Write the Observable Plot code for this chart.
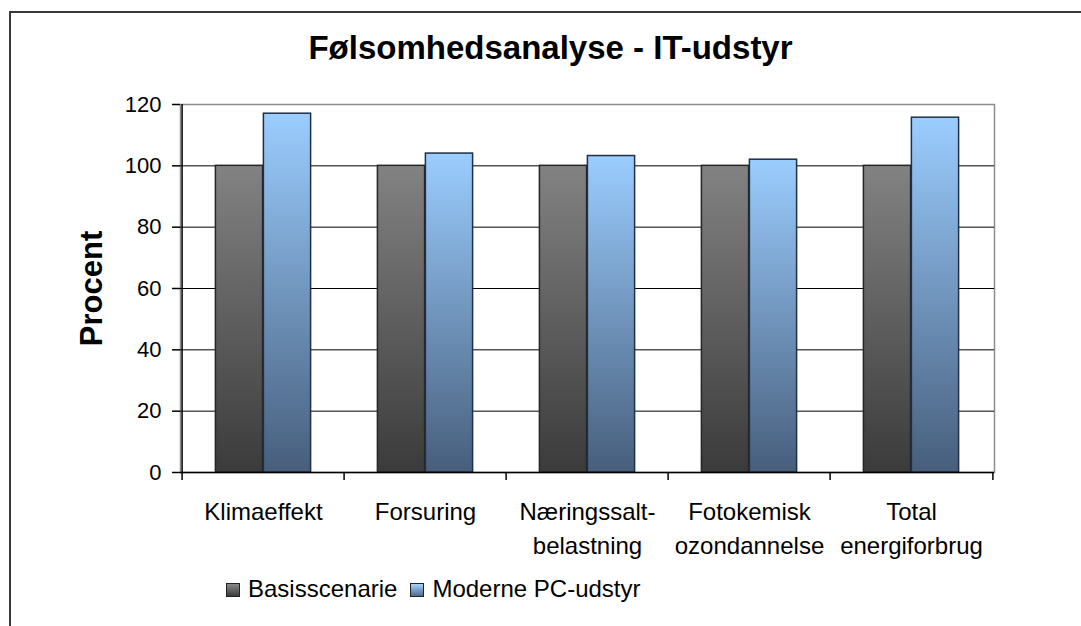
<!DOCTYPE html>
<html><head><meta charset="utf-8">
<script src="https://cdn.jsdelivr.net/npm/d3@7"></script>
<script src="https://cdn.jsdelivr.net/npm/@observablehq/plot@0.6"></script>
<style>
body{margin:0;background:#fff;overflow:hidden;font-family:"Liberation Sans",Arial,sans-serif;color:#000;}
#wrap{position:relative;width:1081px;height:626px;overflow:hidden;}
#frame{position:absolute;left:9px;top:11px;width:1200px;height:800px;border:2px solid #3a3a3a;}
#title{position:absolute;left:10px;width:1081px;top:31px;text-align:center;font-weight:bold;font-size:33px;line-height:33px;}
#chart{position:absolute;left:0;top:80px;}
#legend{position:absolute;left:226px;top:577px;font-size:24px;line-height:24px;white-space:nowrap;}
#legend .sw{display:inline-block;width:14px;height:14px;box-sizing:border-box;border:1px solid #222;margin-right:8px;vertical-align:baseline;}
#legend .lab{margin-right:13px;}
</style>
</head><body>
<div id="wrap">
  <div id="frame"></div>
  <div id="title">Følsomhedsanalyse - IT-udstyr</div>
  <div id="chart"></div>
  <div id="legend"></div>
</div>
<script>
const categories = ["Klimaeffekt", "Forsuring", "Næringssalt-\nbelastning", "Fotokemisk\nozondannelse", "Total\nenergiforbrug"];
const seriesNames = ["Basisscenarie", "Moderne PC-udstyr"];
const basisValues = [100, 100, 100, 100, 100];
const modernValues = [117, 104, 103.2, 102, 115.7];
const yTicks = [0, 20, 40, 60, 80, 100, 120];
const yLabel = "Procent";

const basisData = categories.map((c, i) => ({category: c, series: seriesNames[0], value: basisValues[i]}));
const modernData = categories.map((c, i) => ({category: c, series: seriesNames[1], value: modernValues[i]}));

const W = 1081, H = 490, mL = 180, mR = 87, mT = 24, mB = 98;
const band = (W - mL - mR) / categories.length;
const barW = 48;
const half = band / 2;

const svg = Plot.plot({
  width: W, height: H,
  marginLeft: mL, marginRight: mR, marginTop: mT, marginBottom: mB,
  style: {fontFamily: "'Liberation Sans', Arial, sans-serif", color: "#000", background: "transparent"},
  x: {domain: categories, padding: 0, axis: null},
  y: {domain: [0, 120], axis: null},
  marks: [
    Plot.frame({stroke: "#8c8c8c", strokeWidth: 1.5}),
    Plot.ruleY(yTicks.filter(d => d > 0 && d < 120), {stroke: "#000", strokeWidth: 1}),
    Plot.barY(basisData, {x: "category", y: "value", fill: "url(#gGrey)", stroke: "#262626", strokeWidth: 1.5, insetLeft: half - barW, insetRight: half}),
    Plot.barY(modernData, {x: "category", y: "value", fill: "url(#gBlue)", stroke: "#1e2f47", strokeWidth: 1.5, insetLeft: half, insetRight: half - barW}),
    Plot.ruleY([0], {stroke: "#000", strokeWidth: 1.5}),
    Plot.ruleX([categories[0]], {y1: 0, y2: 120, dx: -half, stroke: "#000", strokeWidth: 1.5}),
    Plot.ruleX(categories, {y1: 0, y2: 0, insetBottom: -8, dx: -half, stroke: "#000", strokeWidth: 1.5}),
    Plot.ruleX([categories[categories.length - 1]], {y1: 0, y2: 0, insetBottom: -8, dx: half, stroke: "#000", strokeWidth: 1.5}),
    Plot.axisY(yTicks, {anchor: "left", tickSize: 8, tickPadding: 11, fontSize: 22, stroke: "#000", strokeWidth: 1.5, label: null}),
    Plot.axisX({anchor: "bottom", tickSize: 0, tickPadding: 24, fontSize: 24, lineHeight: 1.4, label: null}),
    Plot.text([yLabel], {text: d => d, frameAnchor: "left", textAnchor: "middle", rotate: -90, dx: -88, fontSize: 31, fontWeight: "bold", fill: "#000"})
  ]
});

const defs = d3.select(svg).insert("defs", ":first-child");
function grad(id, top, bottom) {
  const g = defs.append("linearGradient").attr("id", id).attr("x1", 0).attr("y1", 0).attr("x2", 0).attr("y2", 1);
  g.append("stop").attr("offset", "0%").attr("stop-color", top);
  g.append("stop").attr("offset", "100%").attr("stop-color", bottom);
}
grad("gGrey", "#828282", "#3b3b3b");
grad("gBlue", "#9bcdff", "#475e7c");
document.getElementById("chart").appendChild(svg);

const legend = document.getElementById("legend");
const swatchBg = ["linear-gradient(#8a8a8a,#3b3b3b)", "linear-gradient(#a6d3ff,#4d6a8f)"];
seriesNames.forEach((s, i) => {
  const sw = document.createElement("span");
  sw.className = "sw";
  sw.style.background = swatchBg[i];
  const lab = document.createElement("span");
  lab.className = "lab";
  lab.textContent = s;
  legend.appendChild(sw);
  legend.appendChild(lab);
});
</script>
</body></html>
